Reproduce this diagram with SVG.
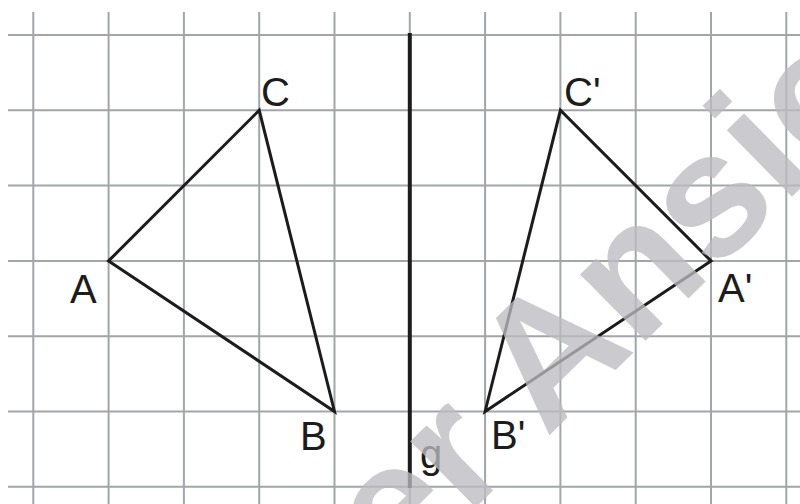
<svg xmlns="http://www.w3.org/2000/svg" width="800" height="504" viewBox="0 0 800 504">
<style>
.grid line{stroke:#a2a5aa;stroke-width:2}
.tri{fill:none;stroke:#1c1c1c;stroke-width:3;stroke-linejoin:miter}
.lbl{font-family:"Liberation Sans",Arial,sans-serif;font-size:40px;fill:#1c1c1c}
.wm{font-family:"Liberation Sans",Arial,sans-serif;font-weight:bold;font-size:176px;fill:#bcbcc1;opacity:0.77}
</style>
<rect width="800" height="504" fill="#fff"/>
<g class="grid" id="grid">
<line x1="33.3" y1="12" x2="33.3" y2="504"/>
<line x1="108.6" y1="12" x2="108.6" y2="504"/>
<line x1="183.9" y1="12" x2="183.9" y2="504"/>
<line x1="259.2" y1="12" x2="259.2" y2="504"/>
<line x1="334.5" y1="12" x2="334.5" y2="504"/>
<line x1="409.8" y1="12" x2="409.8" y2="504"/>
<line x1="485.1" y1="12" x2="485.1" y2="504"/>
<line x1="560.4" y1="12" x2="560.4" y2="504"/>
<line x1="635.7" y1="12" x2="635.7" y2="504"/>
<line x1="711" y1="12" x2="711" y2="504"/>
<line x1="786.3" y1="12" x2="786.3" y2="504"/>
<line x1="8" y1="35" x2="800" y2="35"/>
<line x1="8" y1="110.3" x2="800" y2="110.3"/>
<line x1="8" y1="185.6" x2="800" y2="185.6"/>
<line x1="8" y1="260.9" x2="800" y2="260.9"/>
<line x1="8" y1="336.2" x2="800" y2="336.2"/>
<line x1="8" y1="411.5" x2="800" y2="411.5"/>
<line x1="8" y1="486.8" x2="800" y2="486.8"/>
</g>
<g id="axis-g">
<line x1="409.8" y1="33" x2="409.8" y2="488" stroke="#1c1c1c" stroke-width="4"/>
<text class="lbl" x="420" y="468">g</text>
</g>
<g id="triangle-ABC">
<polygon class="tri" points="108.6,260.9 259.2,110.3 334.5,411.5"/>
<text class="lbl" x="70" y="303">A</text>
<text class="lbl" x="300" y="450">B</text>
<text class="lbl" x="261" y="106">C</text>
</g>
<g id="triangle-A1B1C1">
<polygon class="tri" points="711,260.9 560.4,110.3 485.1,411.5"/>
<text class="lbl" x="718" y="302">A'</text>
<text class="lbl" x="491" y="449">B'</text>
<text class="lbl" x="564" y="106">C'</text>
</g>
<g id="watermark">
<text class="wm" transform="translate(467,516) rotate(-44.5)" x="-479.2" y="0">Lehrer Ansicht</text>
</g>
</svg>
